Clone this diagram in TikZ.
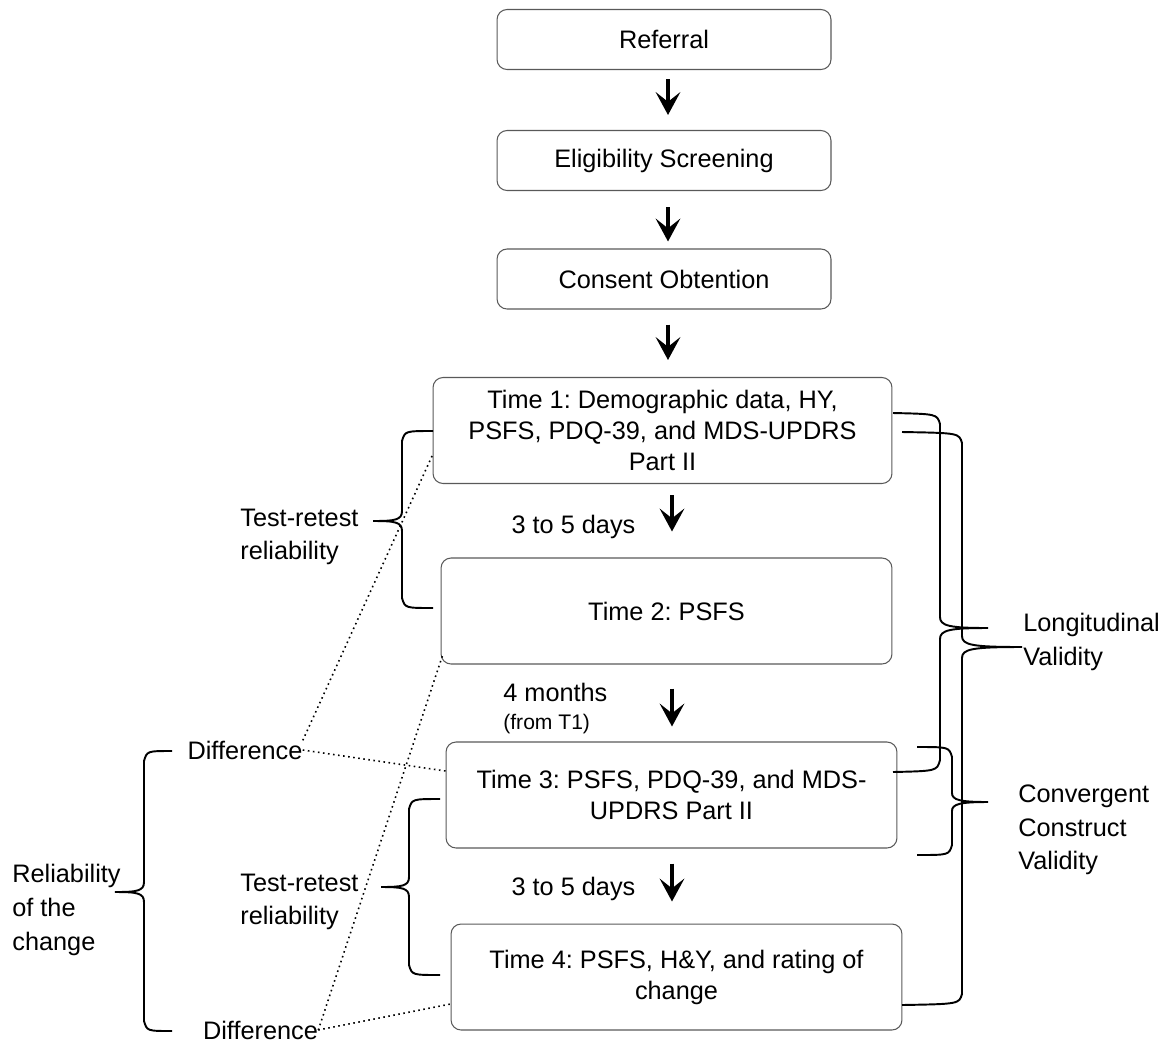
\documentclass[tikz,border=0pt]{standalone}
\usepackage{fontspec}
\setmainfont{Liberation Sans}
\usetikzlibrary{arrows.meta}
\frenchspacing

\begin{document}
\begin{tikzpicture}
[x=0.02cm, y=-0.02cm, every node/.style={color=black, font=\fontsize{14.4}{17.6}\selectfont}, stage box/.style={draw=black!65, line width=0.6pt, rounded corners=0.2cm, align=center}, small stage/.style={stage box, minimum width=6.68cm, minimum height=1.2cm}, time stage/.style={stage box, minimum width=9.02cm, minimum height=2.12cm}, flow arrow/.style={-{Stealth[length=13pt, width=14pt, inset=5.5pt]}, line width=2.6pt}, brace line/.style={line width=1.1pt, black}, diff line/.style={dotted, line width=0.9pt}, side label/.style={align=left, anchor=west, inner sep=0pt, font=\fontsize{14.4}{19.2}\selectfont}]
    \useasboundingbox (0,0) rectangle (1173,1042);
    % main flow
    \node[small stage] (ref) at (664,39.5) {Referral};
    \node[small stage] (elig) at (664,160.5) {Eligibility Screening};
    \node[small stage] (cons) at (664,279) {Consent Obtention};
    \node[time stage, minimum width=9.18cm] (t1) at (662.5,430.5) {Time 1: Demographic data, HY,\\PSFS, PDQ-39, and MDS-UPDRS\\Part II};
    \node[time stage] (t2) at (666.5,611) {Time 2: PSFS};
    \node[time stage] (t3) at (671.5,795) {Time 3: PSFS, PDQ-39, and MDS-\\UPDRS Part II};
    \node[time stage] (t4) at (676.5,977) {Time 4: PSFS, H\&Y, and rating of\\change};
    \draw[flow arrow, shorten <=0.18cm, shorten >=0.3cm] ([xshift=0.08cm]ref.south) -- ([xshift=0.08cm]elig.north);
    \draw[flow arrow, shorten <=0.32cm, shorten >=0.14cm] ([xshift=0.08cm]elig.south) -- ([xshift=0.08cm]cons.north);
    \draw[flow arrow, shorten <=0.3cm, shorten >=0.34cm] ([xshift=0.08cm]cons.south) -- ([xshift=0.08cm]cons.south |- t1.north);
    \draw[flow arrow, shorten <=0.22cm, shorten >=0.52cm] ([xshift=0.19cm]t1.south) -- ([xshift=0.19cm]t1.south |- t2.north);
    \draw[flow arrow, shorten <=0.48cm, shorten >=0.3cm] ([xshift=0.11cm]t2.south) -- ([xshift=0.11cm]t2.south |- t3.north);
    \draw[flow arrow, shorten <=0.3cm, shorten >=0.44cm] ([xshift=0.01cm]t3.south) -- ([xshift=0.01cm]t3.south |- t4.north);
    \node (gap1) at (573.5,527) {3 to 5 days};
    \node[inner sep=0pt, anchor=west] (gap2) at (503,692) {4 months};
    \node[inner sep=0pt, anchor=west, font=\fontsize{12}{14}\selectfont] (gap2b) at (503,724) {(from T1)};
    \node (gap3) at (573.5,889) {3 to 5 days};
    % left braces
    \draw[brace line] (433,431) .. controls (405,431) .. (402,441) -- (402,511) .. controls (402,520) and (395,521) .. (373,521) .. controls (395,521) and (402,522) .. (402,531) -- (402,598) .. controls (405,608) .. (433,608);
    \node[side label] (trr1) at (240,537) {Test-retest\\reliability};
    \draw[brace line] (440,799) .. controls (412,799) .. (409,809) -- (409,877) .. controls (409,886) and (402,887) .. (381,887) .. controls (402,887) and (409,888) .. (409,897) -- (409,965) .. controls (412,975) .. (440,975);
    \node[side label] (trr2) at (240,902) {Test-retest\\reliability};
    \draw[brace line] (172,751) .. controls (147,751) .. (144,761) -- (144,882) .. controls (144,891) and (137,892) .. (115,892) .. controls (137,892) and (144,893) .. (144,902) -- (144,1021) .. controls (147,1031) .. (172,1031);
    \node[side label] (roc) at (12,910) {Reliability\\of the\\change};
    \node[inner sep=0pt] (diff1) at (245,750) {Difference};
    \node[inner sep=0pt] (diff2) at (260.5,1030) {Difference};
    \draw[diff line] (diff1.north east) -- ([yshift=-0.49cm]t1.west);
    \draw[diff line] (diff1.east) -- ([yshift=0.48cm]t3.west);
    \draw[diff line] (diff2.east) -- ([shift={(0.04cm,0.18cm)}]t2.south west);
    \draw[diff line] (diff2.east) -- ([yshift=-0.54cm]t4.west);
    % right braces
    \draw[brace line] (893,413) .. controls (937,414) .. (940,424) -- (940,617) .. controls (940,626) and (950,628) .. (988,628) .. controls (950,628) and (940,630) .. (940,639) -- (940,760) .. controls (937,771) .. (893,772);
    \draw[brace line] (902,432) .. controls (959,433) .. (962,443) -- (962,636) .. controls (962,645) and (972,647) .. (1022,647) .. controls (972,647) and (962,649) .. (962,658) -- (962,994) .. controls (959,1004) .. (902,1005);
    \node[side label] (lv) at (1023,642) {Longitudinal\\Validity};
    \draw[brace line] (917,747) .. controls (949,747) .. (952,757) -- (952,793) .. controls (952,800) and (960,802) .. (988,802) .. controls (960,802) and (952,804) .. (952,811) -- (952,845) .. controls (949,855) .. (917,855);
    \node[side label] (ccv) at (1018,830) {Convergent\\Construct\\Validity};
\end{tikzpicture}
\end{document}
